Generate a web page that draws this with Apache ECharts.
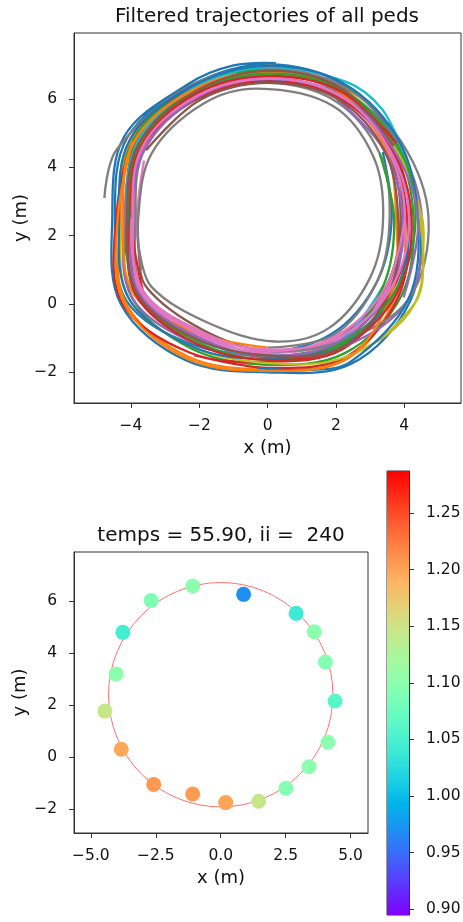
<!DOCTYPE html>
<html>
<head>
<meta charset="utf-8">
<title>Pedestrian trajectories</title>
<script src="https://cdn.jsdelivr.net/npm/echarts@6/dist/echarts.min.js"></script>
<style>
  html, body { margin: 0; padding: 0; background: #ffffff; }
  #chart { width: 463px; height: 922px; }
</style>
</head>
<body>
<div id="chart"></div>
<script>
// ---- Filtered trajectories, one array of [x, y] points (m) per pedestrian ----
const ped01 = [[3.37,4.45],[3.63,2.5],[3.2,0.65],[1.9,-0.86],[0,-1.42],[-2.14,-1.21],[-4.14,0.1],[-4.47,2.5],[-4.12,4.85],[-2.26,6.39],[0,7.01],[2.24,6.4],[3.82,4.7],[4.46,2.5],[4.17,0.08],[2.45,-1.75],[0,-2.0],[-2.4,-1.65],[-4.3,0.0],[-4.55,2.5],[-4.2,4.9],[-2.3,6.45],[-1.0,6.98],[0.24,7.05]];
const ped02 = [[-2.1,6.15],[0,6.82],[2.18,6.29],[3.64,4.6],[4.02,2.5],[3.78,0.31],[2.35,-1.59],[0,-1.91],[-2.34,-1.54],[-4.18,0.08],[-4.31,2.5],[-4.0,4.78],[-2.24,6.36],[0,6.97],[1.7,6.55]];
const ped03 = [[-3.9,0.25],[-4.23,2.5],[-3.96,4.75],[-2.22,6.33],[0,6.86],[2.14,6.22],[3.73,4.65],[4.27,2.5],[3.91,0.23],[2.26,-1.44],[0,-1.78],[-2.21,-1.32],[-3.98,0.2],[-4.15,2.5],[-3.84,4.68],[-2.16,6.24],[0,6.82],[2.22,6.36],[3.04,5.82]];
const ped04 = [[0,6.59],[2.1,6.15],[3.64,4.6],[4.14,2.5],[3.65,0.39],[2.19,-1.33],[0,-1.69],[-2.27,-1.43],[-4.26,0.03],[-4.43,2.5],[-3.88,4.7],[-2.08,6.12],[0,6.55],[2.06,6.08],[3.55,4.55],[4.08,2.5],[3.85,0.27],[2.32,-1.54],[0,-1.87],[-2.15,-1.5]];
const ped05 = [[-4.07,2.5],[-3.72,4.6],[-2.1,6.15],[0,6.7],[2.14,6.22],[3.78,4.68],[4.52,2.5],[4.11,0.12],[2.16,-1.28],[0,-1.55],[-2.11,-1.16],[-3.98,0.2],[-4.19,2.5],[-3.8,4.65],[-2.12,6.18],[0,6.74],[2.16,6.26],[3.82,4.7],[4.55,2.3]];
const ped06 = [[0.1,6.93],[2.2,6.33],[3.6,4.58],[3.95,2.5],[3.52,0.46],[2.09,-1.17],[0,-1.55],[-2.01,-0.99],[-3.74,0.35],[-4.03,2.5],[-3.88,4.7],[-2.22,6.33],[-0.1,6.9],[2.14,6.22],[3.5,4.53],[3.89,2.5],[3.46,0.5],[2.0,-1.02],[0,-1.37],[-1.88,-0.77],[-3.54,0.48],[-3.78,1.6],[-3.79,3.05]];
const ped07 = [[2.0,-1.02],[0,-1.46],[-1.95,-0.88],[-3.7,0.38],[-3.91,2.5],[-3.64,4.55],[-2.06,6.09],[0,6.63],[2.06,6.08],[3.5,4.53],[4.02,2.5],[3.52,0.46],[2.03,-1.07],[0,-1.42],[-1.98,-0.94],[-3.74,0.35],[-3.83,2.5],[-3.62,4.2]];
const ped08 = [[-4.78,3.1],[-4.42,4.52],[-2.26,6.39],[0,6.9],[2.22,6.36],[3.91,4.75],[4.71,2.5],[4.11,0.12],[2.06,-1.12],[0,-1.37],[-1.91,-0.83],[-3.66,0.4],[-3.87,2.5],[-3.6,4.53],[-2.02,6.03],[0,6.47],[1.98,5.94],[3.28,4.4],[3.57,2.5],[3.2,0.65],[1.93,-0.91],[0,-1.28]];
const ped09 = [[-4.11,2.5],[-3.76,4.63],[-2.14,6.21],[0,6.74],[2.12,6.19],[3.69,4.63],[4.46,2.5],[4.3,0.0],[2.32,-1.54],[0,-1.73],[-2.17,-1.27],[-4.06,0.15],[-4.27,2.5],[-3.92,4.73],[-2.18,6.27],[0,6.78],[2.18,6.29],[3.78,4.68],[4.52,2.5],[4.55,1.5],[4.41,0.2],[3.4,-0.95]];
const ped10 = [[3.39,0.54],[2.06,-1.12],[0,-1.51],[-2.04,-1.05],[-3.82,0.3],[-4.11,2.5],[-3.84,4.68],[-2.2,6.3],[0,6.93],[2.3,6.5],[3.35,5.7],[3.97,4.42]];
const ped11 = [[-2.02,6.03],[0,6.55],[2.1,6.15],[3.6,4.58],[4.14,2.5],[3.72,0.35],[2.13,-1.23],[0,-1.6],[-2.17,-1.27],[-4.06,0.15],[-4.35,2.5],[-4.04,4.8],[-2.24,6.36],[0,6.97],[2.26,6.43],[3.87,4.73],[4.4,2.5],[4.11,0.12],[2.42,-1.7],[1.2,-1.93],[-0.3,-1.87]];
const ped12 = [[0,-1.28],[-1.95,-0.88],[-3.9,0.25],[-4.23,2.5],[-3.92,4.73],[-2.18,6.27],[0,6.78],[2.12,6.19],[3.46,4.5],[3.76,2.5],[3.65,0.39],[2.35,-1.59],[0,-1.96],[-2.37,-1.6],[-4.22,0.05],[-4.39,2.5],[-3.96,4.75]];
const ped13 = [[3.28,4.4],[3.7,2.5],[3.39,0.54],[2.13,-1.23],[0,-1.64],[-2.08,-1.1],[-3.86,0.28],[-4.07,2.5],[-3.76,4.63],[-2.12,6.18],[0,6.74],[2.16,6.26],[3.78,4.68],[4.33,2.5],[3.72,0.35],[2.09,-1.17],[0,-1.55]];
const ped14 = [[-3.66,0.4],[-3.99,2.5],[-3.68,4.58],[-2.02,6.03],[0,6.51],[2.04,6.05],[3.6,4.58],[4.21,2.5],[3.78,0.31],[2.16,-1.28],[0,-1.64],[-2.11,-1.16],[-3.86,0.28],[-4.03,2.5],[-3.72,4.6],[-2.1,6.15],[0,6.67],[2.14,6.22],[3.77,4.71]];
const ped15 = [[2.02,6.01],[3.42,4.48],[3.95,2.5],[3.59,0.42],[2.06,-1.12],[0,-1.51],[-2.01,-0.99],[-3.78,0.33],[-3.99,2.5],[-3.6,4.53],[-2.04,6.06],[0,6.59],[2.08,6.12],[3.64,4.6],[4.4,2.5],[3.98,0.19]];
const ped16 = [[-3.56,4.5],[-1.98,5.97],[0,6.47],[2.02,6.01],[3.42,4.48],[3.82,2.5],[3.59,0.42],[2.16,-1.28],[0,-1.51],[-2.04,-1.05],[-3.82,0.3],[-4.11,2.5],[-3.8,4.65],[-2.14,6.21],[0,6.82],[2.18,6.29],[3.69,4.63]];
const ped17 = [[4.02,2.5],[3.46,0.5],[1.96,-0.96],[0,-1.37],[-1.91,-0.83],[-3.66,0.4],[-3.95,2.5],[-3.68,4.58],[-2.06,6.09],[0,6.59],[2.08,6.12],[3.55,4.55],[4.14,2.5],[3.59,0.42],[2.0,-1.02],[0,-1.33],[-1.95,-0.88],[-3.7,0.38],[-3.99,2.5]];
const ped18 = [[-3.7,1.0],[-3.79,2.5],[-3.4,4.4],[-1.9,5.85],[-0.3,6.3],[1.9,5.8],[3.1,4.3],[3.38,2.5],[3.0,0.77],[1.8,-0.7],[0.2,-1.1],[-1.75,-0.55],[-3.4,0.5],[-3.76,1.6]];

// ---- Snapshot at t = 55.90 s: positions (m) and speeds (m/s) ----
const snapX = [-1.08, -2.68, -3.77, -4.03, -4.46, -3.83, -2.58, -1.08, 0.19, 1.46, 2.51, 3.40, 4.13, 4.40, 4.03, 3.60, 2.90, 0.88];
const snapY = [6.59, 6.03, 4.81, 3.21, 1.78, 0.31, -1.04, -1.41, -1.74, -1.69, -1.19, -0.36, 0.58, 2.17, 3.67, 4.83, 5.54, 6.27];
const snapSpeed = [1.10, 1.09, 1.045, 1.10, 1.145, 1.197, 1.207, 1.205, 1.20, 1.145, 1.095, 1.10, 1.10, 1.06, 1.095, 1.10, 1.04, 0.97];

// Reference ring the pedestrians walk around: [centre x, centre y, radius]
const ring = [0.0, 2.41, 4.32];

// Tick positions and colour scale limits
const topTicksX = [-4, -2, 0, 2, 4];
const topTicksY = [-2, 0, 2, 4, 6];
const snapTicksX = [-5, -2.5, 0, 2.5, 5];
const snapTicksY = [-2, 0, 2, 4, 6];
const speedTicks = [0.90, 0.95, 1.00, 1.05, 1.10, 1.15, 1.20, 1.25];
const speedMin = 0.895;
const speedMax = 1.287;

const trajectories = [ped01, ped02, ped03, ped04, ped05, ped06, ped07, ped08, ped09,
                      ped10, ped11, ped12, ped13, ped14, ped15, ped16, ped17, ped18];

// matplotlib "tab10" cycle
const palette = ['#1f77b4', '#ff7f0e', '#2ca02c', '#d62728', '#9467bd',
                 '#8c564b', '#e377c2', '#7f7f7f', '#bcbd22', '#17becf'];

const FONT = 'DejaVu Sans';
const INK = '#111111';
const FRAME = '#333333';

// matplotlib "rainbow" colormap, sampled into colour stops
function rainbow(t) {
  const r = Math.min(1, Math.abs(2 * t - 0.5));
  const g = Math.sin(Math.PI * t);
  const b = Math.cos(Math.PI * t / 2);
  const h = v => Math.round(Math.max(0, Math.min(1, v)) * 255).toString(16).padStart(2, '0');
  return '#' + h(r) + h(g) + h(b);
}
const rainbowColors = [];
const rainbowStops = [];
for (let i = 0; i <= 24; i++) {
  const t = i / 24;
  rainbowColors.push(rainbow(t));
  rainbowStops.push({ offset: t, color: rainbow(t) });
}

function fmt(v, decimals) {
  return v.toFixed(decimals).replace('-', '\u2212');
}

function valueAxis(gridIndex, min, max, ticks, decimals, name, nameGap, margin, extra) {
  return Object.assign({
    type: 'value',
    gridIndex: gridIndex,
    min: min,
    max: max,
    axisLine: { show: true, onZero: false, lineStyle: { color: FRAME, width: 1 } },
    splitLine: { show: false },
    axisTick: { show: true, inside: false, customValues: ticks, length: 5, lineStyle: { color: FRAME, width: 1 } },
    axisLabel: {
      customValues: ticks,
      formatter: v => fmt(v, decimals),
      fontFamily: FONT, fontSize: 15.5, color: INK, margin: margin
    },
    name: name,
    nameLocation: 'middle',
    nameGap: nameGap,
    nameMoveOverlap: false,
    nameTextStyle: { fontFamily: FONT, fontSize: 18, color: INK }
  }, extra || {});
}

// Each trajectory is one smooth polyline through its points, placed with the grid's scales
const series = trajectories.map((pts, i) => ({
  type: 'custom',
  xAxisIndex: 0,
  yAxisIndex: 0,
  data: pts,
  encode: { x: 0, y: 1 },
  silent: true,
  clip: true,
  renderItem: function (params, api) {
    if (params.dataIndex !== 0) return null;
    const pix = pts.map(p => api.coord(p));
    return {
      type: 'polyline',
      shape: { points: pix, smooth: 0.35 },
      style: { fill: 'none', stroke: palette[i % palette.length], lineWidth: 2.3, lineJoin: 'round', lineCap: 'butt' }
    };
  }
}));

series.push({
  type: 'custom',
  xAxisIndex: 1,
  yAxisIndex: 1,
  data: [ring],
  silent: true,
  renderItem: function (params, api) {
    const c = api.coord([api.value(0), api.value(1)]);
    const s = api.size([api.value(2), api.value(2)]);
    return {
      type: 'circle',
      shape: { cx: c[0], cy: c[1], r: s[0] },
      style: { fill: 'none', stroke: '#ff7272', lineWidth: 1 }
    };
  }
});

const scatterIndex = series.length;
series.push({
  type: 'scatter',
  xAxisIndex: 1,
  yAxisIndex: 1,
  symbolSize: 15,
  data: snapX.map((x, i) => [x, snapY[i], snapSpeed[i]]),
  itemStyle: { opacity: 1 },
  emphasis: { disabled: true },
  silent: true
});

// colour bar: a transparent base up to the scale minimum, then the gradient span
series.push({
  type: 'bar', xAxisIndex: 2, yAxisIndex: 2, stack: 'cbar',
  data: [speedMin], barWidth: '100%', silent: true,
  itemStyle: { color: 'rgba(0,0,0,0)' }
});
series.push({
  type: 'bar', xAxisIndex: 2, yAxisIndex: 2, stack: 'cbar',
  data: [speedMax - speedMin], barWidth: '100%', silent: true,
  itemStyle: { color: new echarts.graphic.LinearGradient(0, 1, 0, 0, rainbowStops) }
});

const gridBase = { show: true, borderColor: FRAME, borderWidth: 1, containLabel: false, outerBoundsMode: 'none' };

const chart = echarts.init(document.getElementById('chart'), null, { renderer: 'canvas' });
chart.setOption({
  animation: false,
  backgroundColor: '#ffffff',
  title: [
    { text: 'Filtered trajectories of all peds', left: 267, top: 7, textAlign: 'center', padding: 0,
      textStyle: { fontFamily: FONT, fontSize: 20, fontWeight: 'normal', color: INK } },
    { text: 'temps = 55.90, ii =  240', left: 221, top: 526, textAlign: 'center', padding: 0,
      textStyle: { fontFamily: FONT, fontSize: 20, fontWeight: 'normal', color: INK, whiteSpace: 'pre' } }
  ],
  grid: [
    Object.assign({ left: 74, top: 33, width: 387, height: 370 }, gridBase),
    Object.assign({ left: 74, top: 552, width: 294, height: 281 }, gridBase),
    Object.assign({ left: 387, top: 471, width: 22, height: 444 }, gridBase)
  ],
  xAxis: [
    valueAxis(0, -5.67, 5.66, topTicksX, 0, 'x (m)', 36, 15),
    valueAxis(1, -5.65, 5.67, snapTicksX, 1, 'x (m)', 36, 15),
    { type: 'category', gridIndex: 2, data: ['speed'], show: false }
  ],
  yAxis: [
    valueAxis(0, -2.90, 7.93, topTicksY, 0, 'y (m)', 44, 17),
    valueAxis(1, -2.91, 7.90, snapTicksY, 0, 'y (m)', 45, 17),
    valueAxis(2, speedMin, speedMax, speedTicks, 2, '', 0, 17, { position: 'right' })
  ],
  visualMap: [{
    type: 'continuous',
    show: false,
    seriesIndex: scatterIndex,
    dimension: 2,
    min: speedMin,
    max: speedMax,
    inRange: { color: rainbowColors }
  }],
  series: series
});
</script>
</body>
</html>
